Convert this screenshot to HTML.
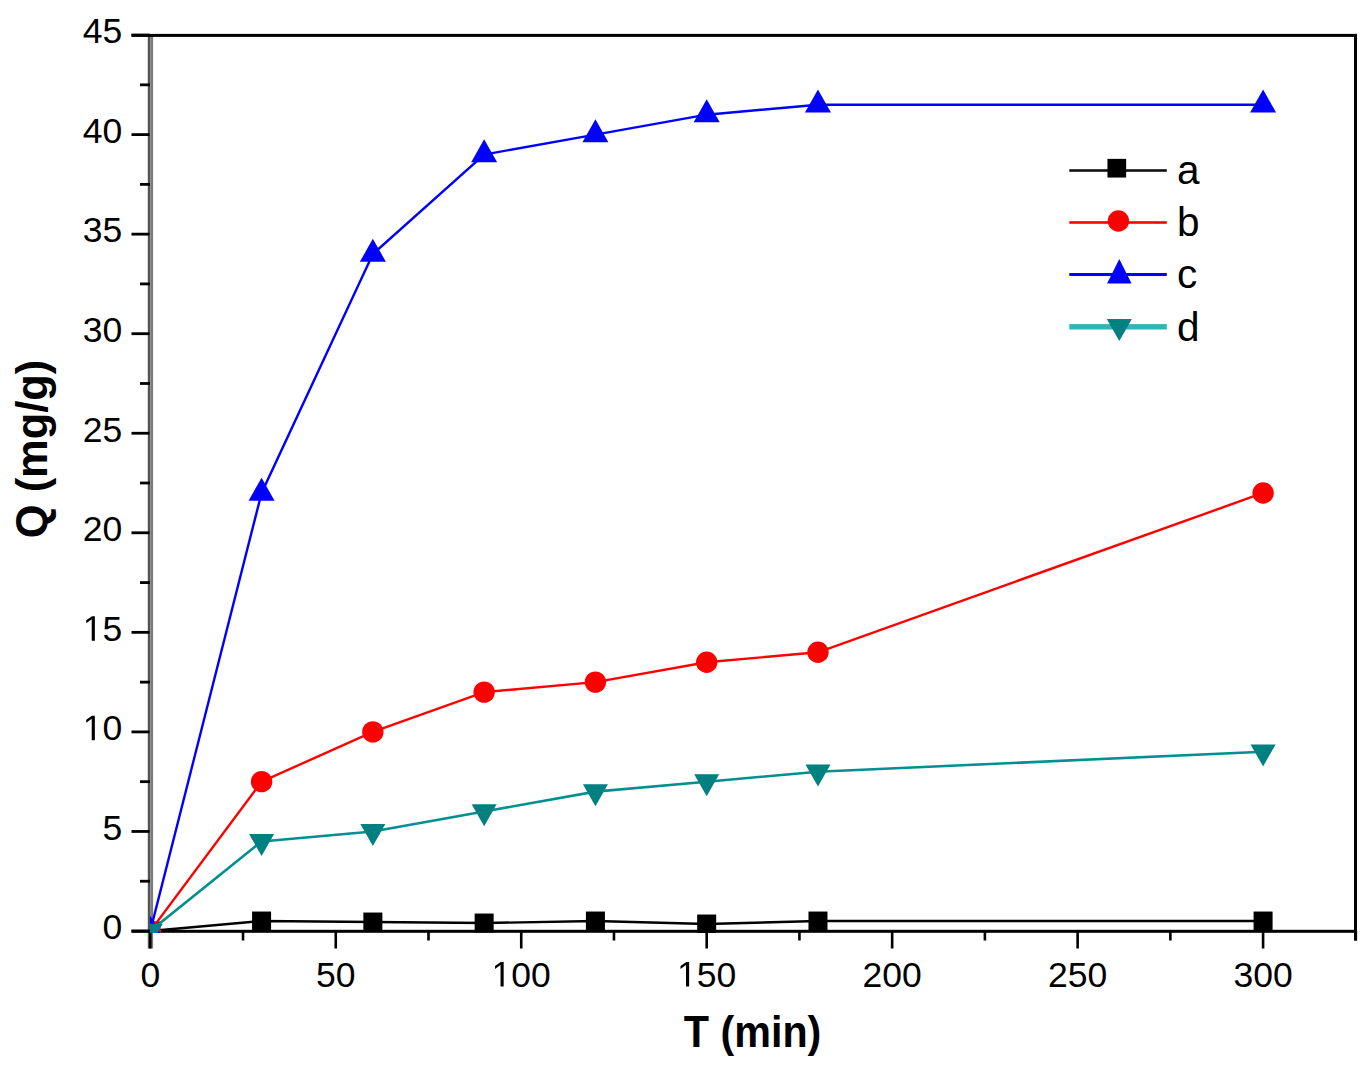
<!DOCTYPE html>
<html><head><meta charset="utf-8"><style>
html,body{margin:0;padding:0;background:#fff;}
body{width:1368px;height:1066px;overflow:hidden;}
svg{display:block;}
#w{width:1368px;height:1066px;}
text{font-family:"Liberation Sans",sans-serif;fill:#000;}
.tk{font-size:35.5px;}
.lg{font-size:40.5px;}
.ti{font-size:44px;font-weight:bold;}
</style></head><body>
<div id="w"><svg width="1368" height="1066" viewBox="0 0 1368 1066">
<defs><clipPath id="pc"><rect x="150" y="20" width="1210" height="913"/></clipPath></defs>
<rect width="1368" height="1066" fill="#fff"/>
<rect x="147.8" y="35" width="2.5" height="913.5" fill="#525252"/>
<rect x="150.3" y="35" width="2.8" height="913.5" fill="#7c7c7c"/>
<rect x="131.5" y="33.9" width="1225" height="3" fill="#000"/>
<rect x="1354" y="33.9" width="3" height="906.6" fill="#000"/>
<rect x="131.5" y="929.8" width="1225" height="3" fill="#000"/>
<rect x="131.5" y="929.60" width="18" height="2.8" fill="#000"/>
<rect x="140" y="879.83" width="10" height="2.8" fill="#000"/>
<rect x="131.5" y="830.05" width="18" height="2.8" fill="#000"/>
<rect x="140" y="780.27" width="10" height="2.8" fill="#000"/>
<rect x="131.5" y="730.50" width="18" height="2.8" fill="#000"/>
<rect x="140" y="680.73" width="10" height="2.8" fill="#000"/>
<rect x="131.5" y="630.95" width="18" height="2.8" fill="#000"/>
<rect x="140" y="581.18" width="10" height="2.8" fill="#000"/>
<rect x="131.5" y="531.40" width="18" height="2.8" fill="#000"/>
<rect x="140" y="481.62" width="10" height="2.8" fill="#000"/>
<rect x="131.5" y="431.85" width="18" height="2.8" fill="#000"/>
<rect x="140" y="382.08" width="10" height="2.8" fill="#000"/>
<rect x="131.5" y="332.30" width="18" height="2.8" fill="#000"/>
<rect x="140" y="282.52" width="10" height="2.8" fill="#000"/>
<rect x="131.5" y="232.75" width="18" height="2.8" fill="#000"/>
<rect x="140" y="182.97" width="10" height="2.8" fill="#000"/>
<rect x="131.5" y="133.20" width="18" height="2.8" fill="#000"/>
<rect x="140" y="83.43" width="10" height="2.8" fill="#000"/>
<rect x="131.5" y="33.65" width="18" height="2.8" fill="#000"/>
<rect x="149.00" y="931" width="2.6" height="17.5" fill="#000"/>
<rect x="241.73" y="931" width="2.6" height="9.5" fill="#000"/>
<rect x="334.46" y="931" width="2.6" height="17.5" fill="#000"/>
<rect x="427.20" y="931" width="2.6" height="9.5" fill="#000"/>
<rect x="519.93" y="931" width="2.6" height="17.5" fill="#000"/>
<rect x="612.66" y="931" width="2.6" height="9.5" fill="#000"/>
<rect x="705.39" y="931" width="2.6" height="17.5" fill="#000"/>
<rect x="798.13" y="931" width="2.6" height="9.5" fill="#000"/>
<rect x="890.86" y="931" width="2.6" height="17.5" fill="#000"/>
<rect x="983.59" y="931" width="2.6" height="9.5" fill="#000"/>
<rect x="1076.33" y="931" width="2.6" height="17.5" fill="#000"/>
<rect x="1169.06" y="931" width="2.6" height="9.5" fill="#000"/>
<rect x="1261.79" y="931" width="2.6" height="17.5" fill="#000"/>
<rect x="1354.52" y="931" width="2.6" height="9.5" fill="#000"/>
<text x="102.56" y="939.30" class="tk">0</text>
<text x="102.56" y="839.75" class="tk">5</text>
<path d="M515,0L696,0L696,1409L530,1409L197,1180L197,1010L515,1237Z" transform="translate(82.81,740.20) scale(0.01733,-0.01733)" fill="#000"/><text x="102.56" y="740.20" class="tk">0</text>
<path d="M515,0L696,0L696,1409L530,1409L197,1180L197,1010L515,1237Z" transform="translate(82.81,640.65) scale(0.01733,-0.01733)" fill="#000"/><text x="102.56" y="640.65" class="tk">5</text>
<text x="82.81" y="541.10" class="tk">2</text><text x="102.56" y="541.10" class="tk">0</text>
<text x="82.81" y="441.55" class="tk">2</text><text x="102.56" y="441.55" class="tk">5</text>
<text x="82.81" y="342.00" class="tk">3</text><text x="102.56" y="342.00" class="tk">0</text>
<text x="82.81" y="242.45" class="tk">3</text><text x="102.56" y="242.45" class="tk">5</text>
<text x="82.81" y="142.90" class="tk">4</text><text x="102.56" y="142.90" class="tk">0</text>
<text x="82.81" y="43.35" class="tk">4</text><text x="102.56" y="43.35" class="tk">5</text>
<text x="140.43" y="986.50" class="tk">0</text>
<text x="316.02" y="986.50" class="tk">5</text><text x="335.76" y="986.50" class="tk">0</text>
<path d="M515,0L696,0L696,1409L530,1409L197,1180L197,1010L515,1237Z" transform="translate(491.61,986.50) scale(0.01733,-0.01733)" fill="#000"/><text x="511.36" y="986.50" class="tk">0</text><text x="531.10" y="986.50" class="tk">0</text>
<path d="M515,0L696,0L696,1409L530,1409L197,1180L197,1010L515,1237Z" transform="translate(677.08,986.50) scale(0.01733,-0.01733)" fill="#000"/><text x="696.82" y="986.50" class="tk">5</text><text x="716.57" y="986.50" class="tk">0</text>
<text x="862.54" y="986.50" class="tk">2</text><text x="882.29" y="986.50" class="tk">0</text><text x="902.03" y="986.50" class="tk">0</text>
<text x="1048.01" y="986.50" class="tk">2</text><text x="1067.75" y="986.50" class="tk">5</text><text x="1087.50" y="986.50" class="tk">0</text>
<text x="1233.47" y="986.50" class="tk">3</text><text x="1253.22" y="986.50" class="tk">0</text><text x="1272.96" y="986.50" class="tk">0</text>
<text transform="translate(752.6,1046.7) scale(0.938,1)" x="0" y="0" text-anchor="middle" class="ti">T (min)</text>
<text transform="translate(46.5,449) rotate(-90) scale(0.986,1)" x="0" y="0" text-anchor="middle" class="ti">Q (mg/g)</text>
<g clip-path="url(#pc)">
<polyline points="150.30,931.00 261.58,921.04 372.86,922.04 484.14,923.04 595.42,921.04 706.69,924.03 817.97,921.04 1263.09,921.04" fill="none" stroke="#000" stroke-width="2.4"/>
<rect x="140.80" y="921.50" width="19" height="19" fill="#000"/>
<rect x="252.08" y="911.54" width="19" height="19" fill="#000"/>
<rect x="363.36" y="912.54" width="19" height="19" fill="#000"/>
<rect x="474.64" y="913.54" width="19" height="19" fill="#000"/>
<rect x="585.92" y="911.54" width="19" height="19" fill="#000"/>
<rect x="697.19" y="914.53" width="19" height="19" fill="#000"/>
<rect x="808.47" y="911.54" width="19" height="19" fill="#000"/>
<rect x="1253.59" y="911.54" width="19" height="19" fill="#000"/>
<polyline points="150.30,931.00 261.58,781.67 372.86,731.90 484.14,692.08 595.42,682.12 706.69,662.21 817.97,652.26 1263.09,492.98" fill="none" stroke="#f00" stroke-width="2.4"/>
<circle cx="150.30" cy="931.00" r="10.7" fill="#f00"/>
<circle cx="261.58" cy="781.67" r="10.7" fill="#f00"/>
<circle cx="372.86" cy="731.90" r="10.7" fill="#f00"/>
<circle cx="484.14" cy="692.08" r="10.7" fill="#f00"/>
<circle cx="595.42" cy="682.12" r="10.7" fill="#f00"/>
<circle cx="706.69" cy="662.21" r="10.7" fill="#f00"/>
<circle cx="817.97" cy="652.26" r="10.7" fill="#f00"/>
<circle cx="1263.09" cy="492.98" r="10.7" fill="#f00"/>
<polyline points="150.30,931.00 261.58,492.98 372.86,254.06 484.14,154.51 595.42,134.60 706.69,114.69 817.97,104.74 1263.09,104.74" fill="none" stroke="#00f" stroke-width="2.4"/>
<polygon points="150.30,915.67 137.30,938.67 163.30,938.67" fill="#00f"/>
<polygon points="261.58,477.65 248.58,500.65 274.58,500.65" fill="#00f"/>
<polygon points="372.86,238.73 359.86,261.73 385.86,261.73" fill="#00f"/>
<polygon points="484.14,139.18 471.14,162.18 497.14,162.18" fill="#00f"/>
<polygon points="595.42,119.27 582.42,142.27 608.42,142.27" fill="#00f"/>
<polygon points="706.69,99.36 693.69,122.36 719.69,122.36" fill="#00f"/>
<polygon points="817.97,89.40 804.97,112.40 830.97,112.40" fill="#00f"/>
<polygon points="1263.09,89.40 1250.09,112.40 1276.09,112.40" fill="#00f"/>
<polyline points="150.30,931.00 261.58,841.40 372.86,831.45 484.14,811.54 595.42,791.63 706.69,781.67 817.97,771.72 1263.09,751.81" fill="none" stroke="#009090" stroke-width="2.6"/>
<polygon points="137.80,923.67 162.80,923.67 150.30,945.67" fill="#008080"/>
<polygon points="249.08,834.07 274.08,834.07 261.58,856.07" fill="#008080"/>
<polygon points="360.36,824.12 385.36,824.12 372.86,846.12" fill="#008080"/>
<polygon points="471.64,804.21 496.64,804.21 484.14,826.21" fill="#008080"/>
<polygon points="582.92,784.30 607.92,784.30 595.42,806.30" fill="#008080"/>
<polygon points="694.19,774.34 719.19,774.34 706.69,796.34" fill="#008080"/>
<polygon points="805.47,764.39 830.47,764.39 817.97,786.39" fill="#008080"/>
<polygon points="1250.59,744.48 1275.59,744.48 1263.09,766.48" fill="#008080"/>
</g>
<rect x="1069.3" y="169.2" width="97.5" height="2.6" fill="#111"/>
<rect x="1107.45" y="158.85" width="18.7" height="18.7" fill="#000"/>
<rect x="1069.3" y="221.2" width="97.5" height="2.6" fill="#f00"/>
<circle cx="1118.40" cy="221.00" r="10.7" fill="#f00"/>
<rect x="1069.3" y="273.0" width="97.5" height="3" fill="#00f"/>
<polygon points="1119.30,258.97 1107.05,283.47 1131.55,283.47" fill="#00f"/>
<rect x="1069.3" y="324.1" width="97.5" height="5.4" fill="#2fb5b5"/>
<polygon points="1106.80,318.97 1131.80,318.97 1119.30,340.97" fill="#008080"/>
<text x="1177" y="184.3" class="lg">a</text>
<text x="1177" y="236.3" class="lg">b</text>
<text x="1177" y="288.4" class="lg">c</text>
<text x="1177" y="340.6" class="lg">d</text>
</svg></div>
</body></html>
